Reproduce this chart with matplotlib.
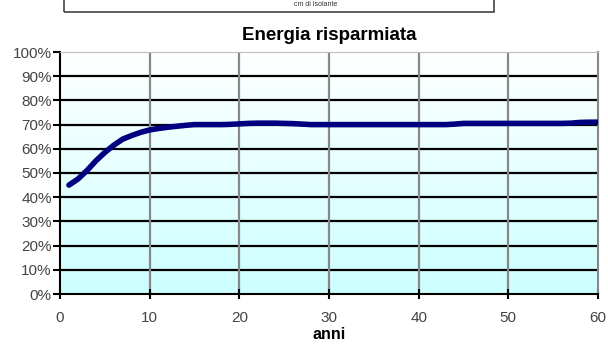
import numpy as np
import matplotlib.pyplot as plt
from matplotlib.patches import Rectangle

plt.rcParams['font.family'] = ['Liberation Sans', 'DejaVu Sans']

anni = list(range(1, 61))
risparmio = [45, 47.5, 51, 55, 58.5, 61.5, 64, 65.5, 66.8, 67.8,
             68.4, 68.9, 69.3, 69.7, 70, 70, 70, 70, 70.1, 70.3,
             70.5, 70.6, 70.6, 70.6, 70.5, 70.4, 70.2, 70, 70, 70,
             70, 70, 70, 70, 70, 70, 70, 70, 70, 70,
             70, 70, 70, 70.2, 70.5, 70.5, 70.5, 70.5, 70.5, 70.5,
             70.5, 70.5, 70.5, 70.5, 70.5, 70.5, 70.6, 70.9, 71, 71]

fig = plt.figure(figsize=(6.08, 3.52), dpi=100)
ax = fig.add_axes([60/608, 1 - 294/352, 538/608, 242/352])

# background gradient white -> light cyan
grad = np.linspace(1, 0, 256).reshape(-1, 1)
bg = np.zeros((256, 1, 3))
bg[..., 0] = 0.80 + 0.20 * grad
bg[..., 1] = 1.0
bg[..., 2] = 1.0
ax.imshow(bg, extent=[0, 60, 0, 100], aspect='auto', zorder=0, origin='upper')

for y in range(10, 100, 10):
    ax.axhline(y, color='black', lw=1.6, zorder=1)
for x in range(10, 60, 10):
    ax.axvline(x, color='#888888', lw=1.6, zorder=1)

ax.plot(anni, risparmio, color='#000080', lw=4, zorder=3, solid_capstyle='round')

ax.set_xlim(0, 60)
ax.set_ylim(0, 100)
ax.set_xticks(range(0, 61, 10))
ax.set_yticks(range(0, 101, 10))
ax.set_yticklabels([f'{v}%' for v in range(0, 101, 10)])
ax.tick_params(axis='y', direction='out', length=5, width=1.5, labelsize=11,
               labelcolor='#444444', pad=1)
ax.tick_params(axis='x', direction='inout', length=7, width=1.5, labelsize=11,
               labelcolor='#444444', pad=9)
ax.spines['left'].set_linewidth(1.5)
ax.spines['bottom'].set_linewidth(1.5)
ax.spines['right'].set_color('#888888')
ax.spines['right'].set_linewidth(1.5)
ax.spines['top'].set_color('#bbbbbb')

ax.set_title('Energia risparmiata', fontsize=13.5, fontweight='bold', pad=9)
ax.set_xlabel('anni', fontsize=11.5, fontweight='bold', labelpad=1)

# cropped legend box at top
fig.patches.append(Rectangle((64/608, 1 - 12/352), 430/608, 0.1,
                             transform=fig.transFigure, fill=False,
                             edgecolor='#444444', lw=1.2))
fig.text(316/608, 1 - 4/352, 'cm di isolante', fontsize=5, ha='center',
         va='center', color='#333333')

fig.savefig('out.png', dpi=100)
